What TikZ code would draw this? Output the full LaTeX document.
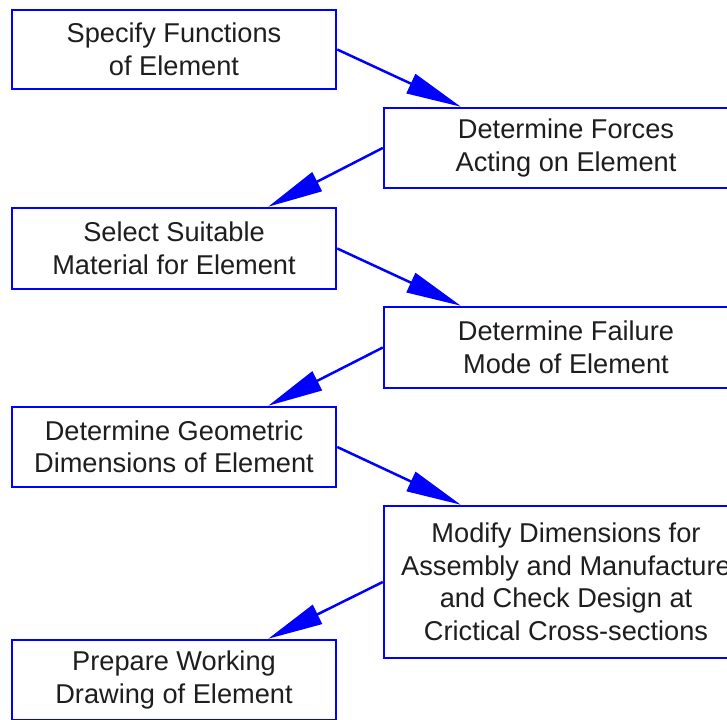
\documentclass[tikz,border=0pt]{standalone}
\usepackage{fontspec}
\setmainfont{Liberation Sans}
\usetikzlibrary{arrows.meta}
\definecolor{edgeblue}{RGB}{0,0,255}
\definecolor{txt}{RGB}{30,30,30}
\tikzset{
  box/.style={draw=edgeblue, line width=2.5pt, inner sep=0pt, align=center,
    text=txt, font=\fontsize{27.2}{32.5}\selectfont},
  leftbox/.style={box, minimum width=324pt},
  rightbox/.style={box, minimum width=364pt},
  flow/.style={draw=edgeblue, line width=2.5pt,
    -{Triangle[length=55pt,width=21pt]}}
}
\begin{document}
\begin{tikzpicture}[x=1pt,y=-1pt]
\useasboundingbox (0,0) rectangle (727,719);
\clip (0,0) rectangle (727,719);
\fill[white] (0,0) rectangle (727,719);
\node[leftbox, minimum height=79pt] (b1) at (174,49.5) {Specify Functions\\of Element};
\node[rightbox, minimum height=80pt] (b2) at (566,148) {Determine Forces\\Acting on Element};
\node[leftbox, minimum height=81pt] (b3) at (174,248.5) {Select Suitable\\Material for Element};
\node[rightbox, minimum height=81pt] (b4) at (566,347.5) {Determine Failure\\Mode of Element};
\node[leftbox, minimum height=80pt] (b5) at (174,447) {Determine Geometric\\Dimensions of Element};
\node[rightbox, minimum height=152pt] (b6) at (566,582) {Modify Dimensions for\\Assembly and Manufacture\\and Check Design at\\Crictical Cross-sections};
\node[leftbox, minimum height=80pt] (b7) at (174,680) {Prepare Working\\Drawing of Element};
\draw[flow] (b1.east) -- ([xshift=78pt]b2.north west);
\draw[flow] (b2.west) -- ([xshift=-69pt]b3.north east);
\draw[flow] (b3.east) -- ([xshift=78pt]b4.north west);
\draw[flow] (b4.west) -- ([xshift=-69pt]b5.north east);
\draw[flow] (b5.east) -- ([xshift=78pt]b6.north west);
\draw[flow] (b6.west) -- ([xshift=-69pt]b7.north east);
\end{tikzpicture}
\end{document}
